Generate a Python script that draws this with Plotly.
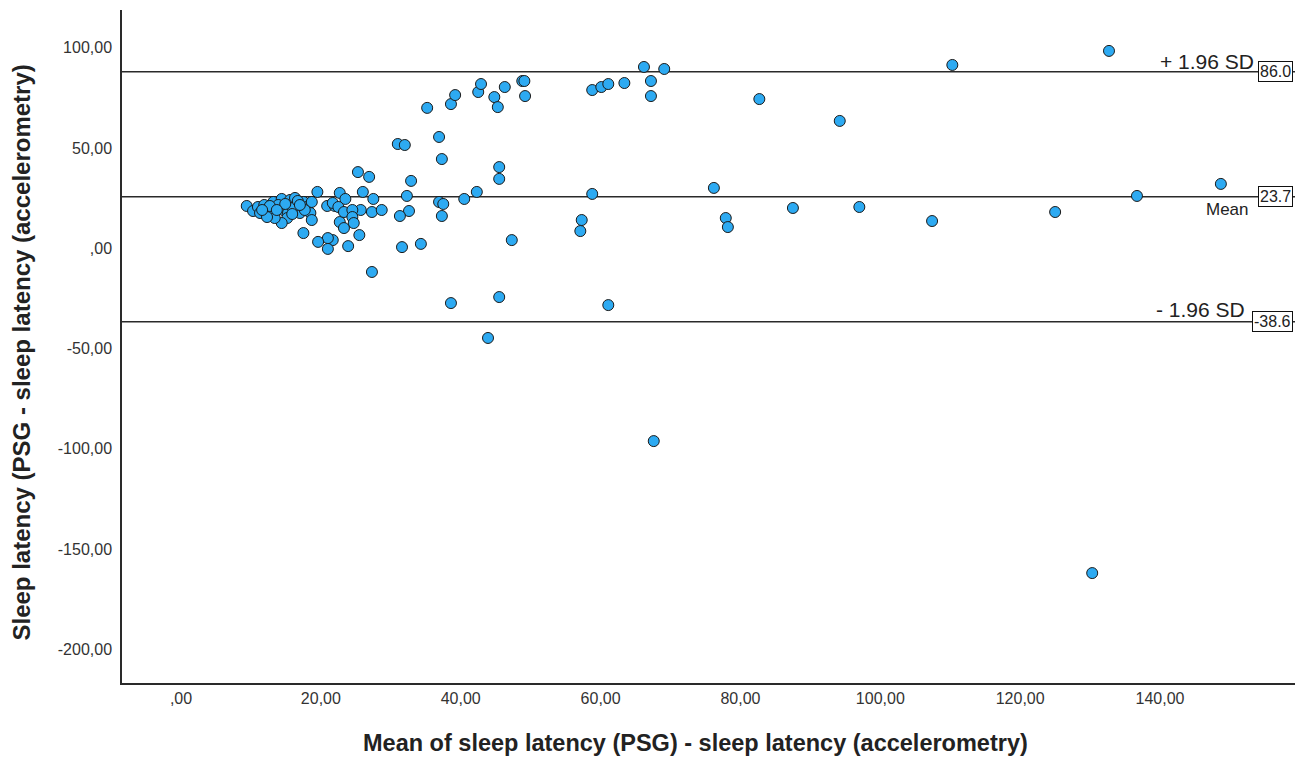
import plotly.graph_objects as go

# Mean of the two methods (x) and difference PSG - accelerometry (y)
mean_vals = [
    9.4, 10.3, 11.0, 11.9, 12.4, 13.2, 13.2, 14.4, 13.9, 14.6,
    15.3, 15.2, 15.6, 16.3, 16.6, 17.0, 17.5, 18.0, 18.5, 18.7,
    18.7, 17.5, 20.9, 22.0, 22.7, 14.4, 13.4, 11.3, 12.3, 19.5,
    22.7, 16.0, 16.7, 14.9, 12.7, 11.6, 17.7, 15.9, 13.7, 17.0,
    25.3, 26.9, 32.9, 26.0, 32.3, 27.5, 42.3, 40.5, 36.9, 37.5,
    23.5, 21.7, 22.5, 23.3, 25.7, 27.3, 28.7, 24.5, 32.6, 31.3,
    37.3, 24.5, 24.7, 23.3, 25.5, 21.7, 21.0, 19.6, 21.0, 23.9,
    31.6, 34.3, 27.3, 37.3, 45.5, 45.5, 36.9, 31.0, 32.0, 35.2,
    38.6, 39.2, 42.5, 42.9, 44.8, 45.3, 46.3, 48.8, 49.1, 49.2,
    58.8, 60.1, 61.1, 63.4, 66.2, 67.2, 67.2, 69.1, 58.8, 57.3,
    57.1, 47.3, 38.6, 45.5, 61.1, 43.9, 67.6, 110.3, 82.7, 94.2,
    76.2, 77.9, 78.2, 87.5, 97.0, 107.4, 132.7, 125.0, 136.7, 148.7,
    130.3,
]
diff_vals = [
    19.1, 16.6, 18.6, 19.6, 17.1, 21.1, 15.6, 22.6, 19.6, 17.1,
    15.6, 13.1, 22.1, 23.1, 18.6, 15.6, 21.1, 18.6, 15.6, 21.1,
    12.1, 5.6, 19.1, 19.1, 11.1, 10.6, 13.1, 15.6, 13.6, 26.1,
    25.6, 18.1, 21.6, 20.1, 19.1, 17.1, 17.1, 15.1, 17.1, 19.6,
    36.0, 33.6, 31.6, 26.1, 24.1, 22.6, 26.1, 22.6, 21.1, 20.1,
    22.6, 20.6, 18.6, 16.1, 17.1, 16.1, 17.1, 17.1, 16.6, 14.1,
    14.1, 13.6, 10.6, 8.1, 4.6, 2.1, 3.1, 1.2, -2.3, -0.9,
    -1.4, 0.2, -13.8, 42.5, 38.5, 32.6, 53.5, 50.0, 49.5, 68.0,
    69.9, 74.4, 75.9, 79.9, 73.4, 68.4, 78.4, 81.4, 81.4, 73.9,
    76.9, 78.4, 79.9, 80.4, 88.4, 81.4, 73.9, 87.4, 25.1, 12.1,
    6.6, 2.1, -29.3, -26.3, -30.3, -46.7, -98.1, 89.4, 72.4, 61.5,
    28.1, 13.1, 8.6, 18.1, 18.6, 11.6, 96.4, 16.1, 24.1, 30.1,
    -163.9,
]

# Reference lines: value, line label, box label
ref_values = [86.0, 23.7, -38.6]
ref_names = ["+ 1.96 SD", "Mean", "- 1.96 SD"]
ref_boxes = ["86.0", "23.7", "-38.6"]

x_ticks = [0, 20, 40, 60, 80, 100, 120, 140]
x_ticklabels = [",00", "20,00", "40,00", "60,00", "80,00", "100,00", "120,00", "140,00"]
y_ticks = [100, 50, 0, -50, -100, -150, -200]
y_ticklabels = ["100,00", "50,00", ",00", "-50,00", "-100,00", "-150,00", "-200,00"]

FONT = "Arial, Liberation Sans, Helvetica, sans-serif"

fig = go.Figure()
fig.add_trace(go.Scatter(
    x=mean_vals, y=diff_vals, mode="markers",
    marker=dict(size=11, color="#2DAAF2", line=dict(color="#1b1b1b", width=1)),
    hoverinfo="x+y", showlegend=False,
))

for v in ref_values:
    fig.add_shape(type="line", xref="paper", yref="y", x0=0, x1=1, y0=v, y1=v,
                  line=dict(color="#2a2a2a", width=1.5), layer="below")

# line labels
label_x = [0.9668, 0.9625, 0.9591]
label_shift = [10, -13, 12]
label_size = [21, 17, 21]
for v, name, lx, sh, fs in zip(ref_values, ref_names, label_x, label_shift, label_size):
    fig.add_annotation(x=lx, xref="paper", y=v, yref="y", text=name, showarrow=False,
                       xanchor="right", yanchor="middle", yshift=sh,
                       font=dict(family=FONT, size=fs, color="#222222"))
for v, b in zip(ref_values, ref_boxes):
    fig.add_annotation(x=0.9985, xref="paper", y=v, yref="y", text=b, showarrow=False,
                       xanchor="right", yanchor="middle", bgcolor="white",
                       bordercolor="#111111", borderwidth=1, borderpad=1,
                       font=dict(family=FONT, size=16, color="#222222"))

# axis titles
fig.add_annotation(x=-0.0853, xref="paper", y=0.491, yref="paper",
                   text="Sleep latency (PSG - sleep latency (accelerometry)",
                   textangle=-90, showarrow=False, xanchor="center", yanchor="middle",
                   font=dict(family=FONT, size=24, color="#222222", weight="bold"))
fig.add_annotation(x=0.4885, xref="paper", y=-0.0891, yref="paper",
                   text="Mean of sleep latency (PSG) - sleep latency (accelerometry)",
                   showarrow=False, xanchor="center", yanchor="middle",
                   font=dict(family=FONT, size=23.5, color="#222222", weight="bold"))

fig.update_xaxes(range=[-8.44, 159.3], tickvals=x_ticks, ticktext=x_ticklabels,
                 showgrid=False, zeroline=False, showline=True, linecolor="#2a2a2a",
                 linewidth=1.5, ticks="", tickfont=dict(family=FONT, size=16, color="#333333"))
fig.update_yaxes(range=[-218.7, 116.8], tickvals=y_ticks, ticktext=y_ticklabels,
                 showgrid=False, zeroline=False, showline=True, linecolor="#2a2a2a",
                 linewidth=1.5, ticks="", ticklabelstandoff=5, ticklabelshift=4,
                 tickfont=dict(family=FONT, size=16, color="#333333"))

# page body has an 8px margin; size the figure so the plot area lands where the reference has it
fig.update_layout(
    width=1289, height=749,
    margin=dict(l=114, r=2, t=2, b=74),
    plot_bgcolor="white", paper_bgcolor="white",
    font=dict(family=FONT),
)

fig.write_html("out.html")
